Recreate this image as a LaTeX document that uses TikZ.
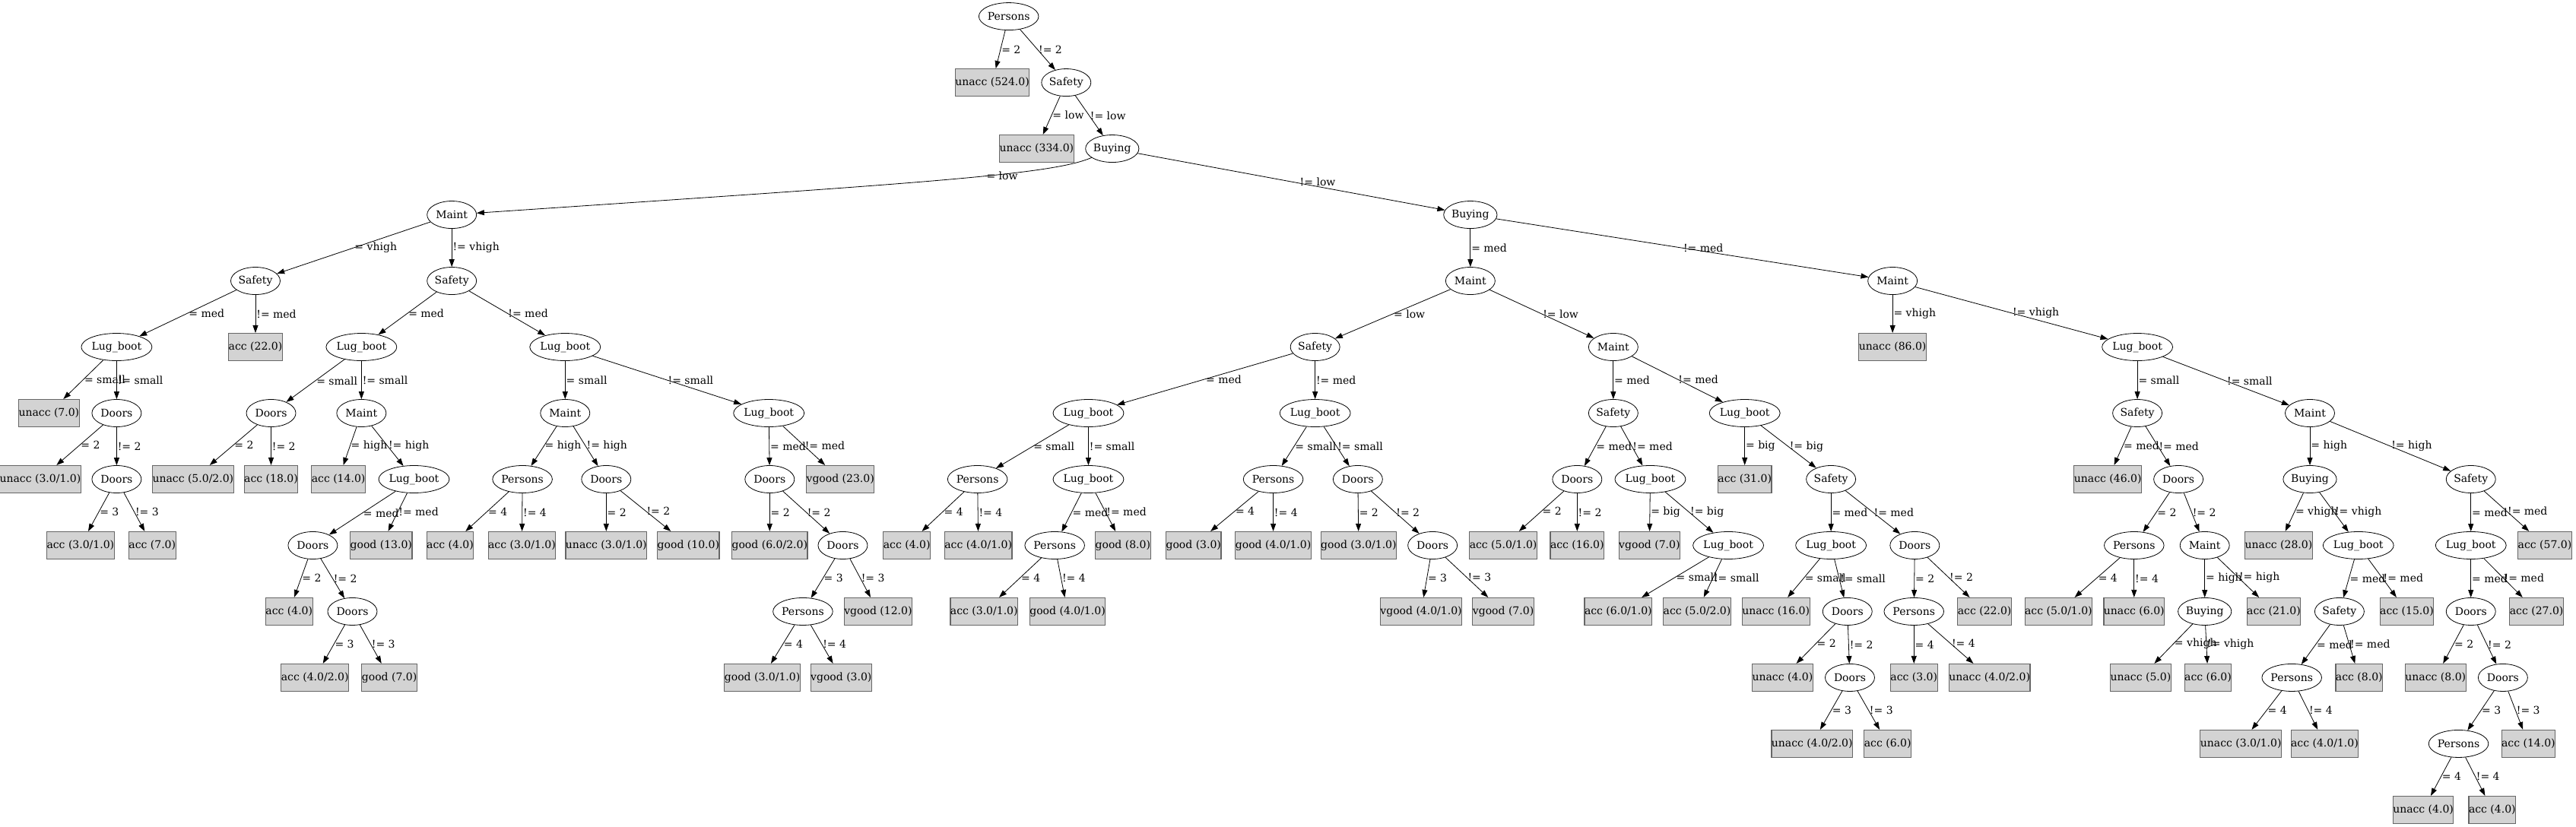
\documentclass[tikz,border=0pt]{standalone}
\usepackage{fontspec}
\setmainfont{DejaVu Serif}
\usetikzlibrary{shapes.geometric,arrows.meta}
\definecolor{leafgray}{HTML}{D3D3D3}

\begin{document}
\begin{tikzpicture}[x=2.161pt, y=-87pt,
    every node/.style={font=\fontsize{14}{17}\selectfont},
    attrnode/.style={draw, line width=0.8pt, ellipse, inner sep=0pt, minimum width=65pt, minimum height=36pt},
    leafbox/.style={draw=black!60, line width=1.1pt, fill=leafgray, inner xsep=0pt, minimum height=36pt},
    branch/.style={line width=0.8pt, -{Triangle[length=10pt, width=7pt]}},
    cond/.style={midway, anchor=west, inner sep=1pt}]
    \useasboundingbox (0,-0.248) rectangle (1568,12.257);

    % Top of the tree
    \node[attrnode] (n0) at (614,0) {Persons};
    \node[leafbox] (l1) at (604,1) {unacc (524.0)};
    \node[attrnode] (n1) at (649,1) {Safety};
    \node[leafbox] (l2) at (631,2) {unacc (334.0)};
    \node[attrnode] (n2) at (677,2) {Buying};
    \node[attrnode] (n3) at (275,3) {Maint};
    \node[attrnode] (n4) at (895,3) {Buying};

    % Row 4
    \node[attrnode] (n5) at (155.5,4) {Safety};
    \node[attrnode] (n6) at (275,4) {Safety};
    \node[attrnode] (n7) at (895,4) {Maint};
    \node[attrnode] (n8) at (1152,4) {Maint};

    % Row 5
    \node[attrnode] (n9) at (71,5) {Lug\_boot};
    \node[leafbox] (l3) at (155.5,5) {acc (22.0)};
    \node[attrnode] (n10) at (220,5) {Lug\_boot};
    \node[attrnode] (n11) at (344,5) {Lug\_boot};
    \node[attrnode] (n12) at (800.5,5) {Safety};
    \node[attrnode] (n13) at (982,5) {Maint};
    \node[leafbox] (l4) at (1152,5) {unacc (86.0)};
    \node[attrnode] (n14) at (1301,5) {Lug\_boot};

    % Row 6
    \node[leafbox] (l5) at (29.8,6) {unacc (7.0)};
    \node[attrnode] (n15) at (71,6) {Doors};
    \node[attrnode] (n16) at (165,6) {Doors};
    \node[attrnode] (n17) at (220,6) {Maint};
    \node[attrnode] (n18) at (344,6) {Maint};
    \node[attrnode] (n19) at (468,6) {Lug\_boot};
    \node[attrnode] (n20) at (662.5,6) {Lug\_boot};
    \node[attrnode] (n21) at (800.5,6) {Lug\_boot};
    \node[attrnode] (n22) at (982,6) {Safety};
    \node[attrnode] (n23) at (1062,6) {Lug\_boot};
    \node[attrnode] (n24) at (1301,6) {Safety};
    \node[attrnode] (n25) at (1406,6) {Maint};

    % Row 7
    \node[leafbox] (l6) at (24.5,7) {unacc (3.0/1.0)};
    \node[attrnode] (n26) at (71,7) {Doors};
    \node[leafbox] (l7) at (117.5,7) {unacc (5.0/2.0)};
    \node[leafbox] (l8) at (165,7) {acc (18.0)};
    \node[leafbox] (l9) at (206,7) {acc (14.0)};
    \node[attrnode] (n27) at (252,7) {Lug\_boot};
    \node[attrnode] (n28) at (318,7) {Persons};
    \node[attrnode] (n29) at (369,7) {Doors};
    \node[attrnode] (n30) at (468.5,7) {Doors};
    \node[leafbox] (l10) at (511.5,7) {vgood (23.0)};
    \node[attrnode] (n31) at (595,7) {Persons};
    \node[attrnode] (n32) at (662.5,7) {Lug\_boot};
    \node[attrnode] (n33) at (775,7) {Persons};
    \node[attrnode] (n34) at (826.5,7) {Doors};
    \node[attrnode] (n35) at (960,7) {Doors};
    \node[attrnode] (n36) at (1004.5,7) {Lug\_boot};
    \node[leafbox] (l11) at (1062,7) {acc (31.0)};
    \node[attrnode] (n37) at (1114.5,7) {Safety};
    \node[leafbox] (l12) at (1283,7) {unacc (46.0)};
    \node[attrnode] (n38) at (1326,7) {Doors};
    \node[attrnode] (n39) at (1406,7) {Buying};
    \node[attrnode] (n40) at (1504,7) {Safety};

    % Row 8
    \node[leafbox] (l13) at (49,8) {acc (3.0/1.0)};
    \node[leafbox] (l14) at (92.7,8) {acc (7.0)};
    \node[attrnode] (n41) at (190.4,8) {Doors};
    \node[leafbox] (l15) at (232,8) {good (13.0)};
    \node[leafbox] (l16) at (274,8) {acc (4.0)};
    \node[leafbox] (l17) at (317.7,8) {acc (3.0/1.0)};
    \node[leafbox] (l18) at (369,8) {unacc (3.0/1.0)};
    \node[leafbox] (l19) at (419,8) {good (10.0)};
    \node[leafbox] (l20) at (468.5,8) {good (6.0/2.0)};
    \node[attrnode] (n42) at (513,8) {Doors};
    \node[leafbox] (l21) at (552,8) {acc (4.0)};
    \node[leafbox] (l22) at (595.5,8) {acc (4.0/1.0)};
    \node[attrnode] (n43) at (642,8) {Persons};
    \node[leafbox] (l23) at (683.5,8) {good (8.0)};
    \node[leafbox] (l24) at (726.5,8) {good (3.0)};
    \node[leafbox] (l25) at (775,8) {good (4.0/1.0)};
    \node[leafbox] (l26) at (827,8) {good (3.0/1.0)};
    \node[attrnode] (n44) at (872,8) {Doors};
    \node[leafbox] (l27) at (915,8) {acc (5.0/1.0)};
    \node[leafbox] (l28) at (960,8) {acc (16.0)};
    \node[leafbox] (l29) at (1004,8) {vgood (7.0)};
    \node[attrnode] (n45) at (1052,8) {Lug\_boot};
    \node[attrnode] (n46) at (1114.5,8) {Lug\_boot};
    \node[attrnode] (n47) at (1165.5,8) {Doors};
    \node[attrnode] (n48) at (1299,8) {Persons};
    \node[attrnode] (n49) at (1342,8) {Maint};
    \node[leafbox] (l30) at (1387,8) {unacc (28.0)};
    \node[attrnode] (n50) at (1435.5,8) {Lug\_boot};
    \node[attrnode] (n51) at (1504,8) {Lug\_boot};
    \node[leafbox] (l31) at (1549,8) {acc (57.0)};

    % Row 9
    \node[leafbox] (l32) at (176,9) {acc (4.0)};
    \node[attrnode] (n52) at (214.5,9) {Doors};
    \node[attrnode] (n53) at (488.7,9) {Persons};
    \node[leafbox] (l33) at (534.5,9) {vgood (12.0)};
    \node[leafbox] (l34) at (599,9) {acc (3.0/1.0)};
    \node[leafbox] (l35) at (649.8,9) {good (4.0/1.0)};
    \node[leafbox] (l36) at (865,9) {vgood (4.0/1.0)};
    \node[leafbox] (l37) at (915,9) {vgood (7.0)};
    \node[leafbox] (l38) at (985,9) {acc (6.0/1.0)};
    \node[leafbox] (l39) at (1033,9) {acc (5.0/2.0)};
    \node[leafbox] (l40) at (1081,9) {unacc (16.0)};
    \node[attrnode] (n54) at (1124.5,9) {Doors};
    \node[attrnode] (n55) at (1165,9) {Persons};
    \node[leafbox] (l41) at (1208,9) {acc (22.0)};
    \node[leafbox] (l42) at (1253,9) {acc (5.0/1.0)};
    \node[leafbox] (l43) at (1299,9) {unacc (6.0)};
    \node[attrnode] (n56) at (1342,9) {Buying};
    \node[leafbox] (l44) at (1384,9) {acc (21.0)};
    \node[attrnode] (n57) at (1424,9) {Safety};
    \node[leafbox] (l45) at (1465,9) {acc (15.0)};
    \node[attrnode] (n58) at (1504,9) {Doors};
    \node[leafbox] (l46) at (1544,9) {acc (27.0)};

    % Row 10
    \node[leafbox] (l47) at (191.7,10) {acc (4.0/2.0)};
    \node[leafbox] (l48) at (237,10) {good (7.0)};
    \node[leafbox] (l49) at (464,10) {good (3.0/1.0)};
    \node[leafbox] (l50) at (512,10) {vgood (3.0)};
    \node[leafbox] (l51) at (1085,10) {unacc (4.0)};
    \node[attrnode] (n59) at (1126,10) {Doors};
    \node[leafbox] (l52) at (1165,10) {acc (3.0)};
    \node[leafbox] (l53) at (1211,10) {unacc (4.0/2.0)};
    \node[leafbox] (l54) at (1303,10) {unacc (5.0)};
    \node[leafbox] (l55) at (1344,10) {acc (6.0)};
    \node[attrnode] (n60) at (1395,10) {Persons};
    \node[leafbox] (l56) at (1436,10) {acc (8.0)};
    \node[leafbox] (l57) at (1482.5,10) {unacc (8.0)};
    \node[attrnode] (n61) at (1523.5,10) {Doors};

    % Row 11 and 12
    \node[leafbox] (l58) at (1103,11) {unacc (4.0/2.0)};
    \node[leafbox] (l59) at (1149,11) {acc (6.0)};
    \node[leafbox] (l60) at (1364,11) {unacc (3.0/1.0)};
    \node[leafbox] (l61) at (1415,11) {acc (4.0/1.0)};
    \node[attrnode] (n62) at (1496.5,11) {Persons};
    \node[leafbox] (l62) at (1539,11) {acc (14.0)};
    \node[leafbox] (l63) at (1475,12) {unacc (4.0)};
    \node[leafbox] (l64) at (1517,12) {acc (4.0)};

    % Branches
    \draw[branch] (n0) -- (l1) node[cond] {= 2};
    \draw[branch] (n0) -- (n1) node[cond] {!= 2};
    \draw[branch] (n1) -- (l2) node[cond] {= low};
    \draw[branch] (n1) -- (n2) node[cond] {!= low};
    \draw[branch] (n2) .. controls (640,2.4) and (560,2.52) .. (n3) node[cond, pos=0.4] {= low};
    \draw[branch] (n2) -- (n4) node[cond, xshift=10pt] {!= low};
    \draw[branch] (n3) -- (n5) node[cond] {= vhigh};
    \draw[branch] (n3) -- (n6) node[cond] {!= vhigh};
    \draw[branch] (n4) -- (n7) node[cond] {= med};
    \draw[branch] (n4) -- (n8) node[cond] {!= med};
    \draw[branch] (n5) -- (n9) node[cond] {= med};
    \draw[branch] (n5) -- (l3) node[cond] {!= med};
    \draw[branch] (n6) -- (n10) node[cond] {= med};
    \draw[branch] (n6) -- (n11) node[cond] {!= med};
    \draw[branch] (n7) -- (n12) node[cond] {= low};
    \draw[branch] (n7) -- (n13) node[cond] {!= low};
    \draw[branch] (n8) -- (l4) node[cond] {= vhigh};
    \draw[branch] (n8) -- (n14) node[cond] {!= vhigh};
    \draw[branch] (n9) -- (l5) node[cond] {= small};
    \draw[branch] (n9) -- (n15) node[cond] {!= small};
    \draw[branch] (n10) -- (n16) node[cond] {= small};
    \draw[branch] (n10) -- (n17) node[cond] {!= small};
    \draw[branch] (n11) -- (n18) node[cond] {= small};
    \draw[branch] (n11) -- (n19) node[cond] {!= small};
    \draw[branch] (n12) -- (n20) node[cond] {= med};
    \draw[branch] (n12) -- (n21) node[cond] {!= med};
    \draw[branch] (n13) -- (n22) node[cond] {= med};
    \draw[branch] (n13) -- (n23) node[cond] {!= med};
    \draw[branch] (n14) -- (n24) node[cond] {= small};
    \draw[branch] (n14) -- (n25) node[cond] {!= small};
    \draw[branch] (n15) -- (l6) node[cond] {= 2};
    \draw[branch] (n15) -- (n26) node[cond] {!= 2};
    \draw[branch] (n16) -- (l7) node[cond] {= 2};
    \draw[branch] (n16) -- (l8) node[cond] {!= 2};
    \draw[branch] (n17) -- (l9) node[cond] {= high};
    \draw[branch] (n17) -- (n27) node[cond] {!= high};
    \draw[branch] (n18) -- (n28) node[cond] {= high};
    \draw[branch] (n18) -- (n29) node[cond] {!= high};
    \draw[branch] (n19) -- (n30) node[cond] {= med};
    \draw[branch] (n19) -- (l10) node[cond] {!= med};
    \draw[branch] (n20) -- (n31) node[cond] {= small};
    \draw[branch] (n20) -- (n32) node[cond] {!= small};
    \draw[branch] (n21) -- (n33) node[cond] {= small};
    \draw[branch] (n21) -- (n34) node[cond] {!= small};
    \draw[branch] (n22) -- (n35) node[cond] {= med};
    \draw[branch] (n22) -- (n36) node[cond] {!= med};
    \draw[branch] (n23) -- (l11) node[cond] {= big};
    \draw[branch] (n23) -- (n37) node[cond] {!= big};
    \draw[branch] (n24) -- (l12) node[cond] {= med};
    \draw[branch] (n24) -- (n38) node[cond] {!= med};
    \draw[branch] (n25) -- (n39) node[cond] {= high};
    \draw[branch] (n25) -- (n40) node[cond] {!= high};
    \draw[branch] (n26) -- (l13) node[cond] {= 3};
    \draw[branch] (n26) -- (l14) node[cond] {!= 3};
    \draw[branch] (n27) -- (n41) node[cond] {= med};
    \draw[branch] (n27) -- (l15) node[cond] {!= med};
    \draw[branch] (n28) -- (l16) node[cond] {= 4};
    \draw[branch] (n28) -- (l17) node[cond] {!= 4};
    \draw[branch] (n29) -- (l18) node[cond] {= 2};
    \draw[branch] (n29) -- (l19) node[cond] {!= 2};
    \draw[branch] (n30) -- (l20) node[cond] {= 2};
    \draw[branch] (n30) -- (n42) node[cond] {!= 2};
    \draw[branch] (n31) -- (l21) node[cond] {= 4};
    \draw[branch] (n31) -- (l22) node[cond] {!= 4};
    \draw[branch] (n32) -- (n43) node[cond] {= med};
    \draw[branch] (n32) -- (l23) node[cond] {!= med};
    \draw[branch] (n33) -- (l24) node[cond] {= 4};
    \draw[branch] (n33) -- (l25) node[cond] {!= 4};
    \draw[branch] (n34) -- (l26) node[cond] {= 2};
    \draw[branch] (n34) -- (n44) node[cond] {!= 2};
    \draw[branch] (n35) -- (l27) node[cond] {= 2};
    \draw[branch] (n35) -- (l28) node[cond] {!= 2};
    \draw[branch] (n36) -- (l29) node[cond] {= big};
    \draw[branch] (n36) -- (n45) node[cond] {!= big};
    \draw[branch] (n37) -- (n46) node[cond] {= med};
    \draw[branch] (n37) -- (n47) node[cond] {!= med};
    \draw[branch] (n38) -- (n48) node[cond] {= 2};
    \draw[branch] (n38) -- (n49) node[cond] {!= 2};
    \draw[branch] (n39) -- (l30) node[cond] {= vhigh};
    \draw[branch] (n39) -- (n50) node[cond] {!= vhigh};
    \draw[branch] (n40) -- (n51) node[cond] {= med};
    \draw[branch] (n40) -- (l31) node[cond] {!= med};
    \draw[branch] (n41) -- (l32) node[cond] {= 2};
    \draw[branch] (n41) -- (n52) node[cond] {!= 2};
    \draw[branch] (n42) -- (n53) node[cond] {= 3};
    \draw[branch] (n42) -- (l33) node[cond] {!= 3};
    \draw[branch] (n43) -- (l34) node[cond] {= 4};
    \draw[branch] (n43) -- (l35) node[cond] {!= 4};
    \draw[branch] (n44) -- (l36) node[cond] {= 3};
    \draw[branch] (n44) -- (l37) node[cond] {!= 3};
    \draw[branch] (n45) -- (l38) node[cond] {= small};
    \draw[branch] (n45) -- (l39) node[cond] {!= small};
    \draw[branch] (n46) -- (l40) node[cond] {= small};
    \draw[branch] (n46) -- (n54) node[cond] {!= small};
    \draw[branch] (n47) -- (n55) node[cond] {= 2};
    \draw[branch] (n47) -- (l41) node[cond] {!= 2};
    \draw[branch] (n48) -- (l42) node[cond] {= 4};
    \draw[branch] (n48) -- (l43) node[cond] {!= 4};
    \draw[branch] (n49) -- (n56) node[cond] {= high};
    \draw[branch] (n49) -- (l44) node[cond] {!= high};
    \draw[branch] (n50) -- (n57) node[cond] {= med};
    \draw[branch] (n50) -- (l45) node[cond] {!= med};
    \draw[branch] (n51) -- (n58) node[cond] {= med};
    \draw[branch] (n51) -- (l46) node[cond] {!= med};
    \draw[branch] (n52) -- (l47) node[cond] {= 3};
    \draw[branch] (n52) -- (l48) node[cond] {!= 3};
    \draw[branch] (n53) -- (l49) node[cond] {= 4};
    \draw[branch] (n53) -- (l50) node[cond] {!= 4};
    \draw[branch] (n54) -- (l51) node[cond] {= 2};
    \draw[branch] (n54) -- (n59) node[cond] {!= 2};
    \draw[branch] (n55) -- (l52) node[cond] {= 4};
    \draw[branch] (n55) -- (l53) node[cond] {!= 4};
    \draw[branch] (n56) -- (l54) node[cond] {= vhigh};
    \draw[branch] (n56) -- (l55) node[cond] {!= vhigh};
    \draw[branch] (n57) -- (n60) node[cond] {= med};
    \draw[branch] (n57) -- (l56) node[cond] {!= med};
    \draw[branch] (n58) -- (l57) node[cond] {= 2};
    \draw[branch] (n58) -- (n61) node[cond] {!= 2};
    \draw[branch] (n59) -- (l58) node[cond] {= 3};
    \draw[branch] (n59) -- (l59) node[cond] {!= 3};
    \draw[branch] (n60) -- (l60) node[cond] {= 4};
    \draw[branch] (n60) -- (l61) node[cond] {!= 4};
    \draw[branch] (n61) -- (n62) node[cond] {= 3};
    \draw[branch] (n61) -- (l62) node[cond] {!= 3};
    \draw[branch] (n62) -- (l63) node[cond] {= 4};
    \draw[branch] (n62) -- (l64) node[cond] {!= 4};
\end{tikzpicture}
\end{document}
